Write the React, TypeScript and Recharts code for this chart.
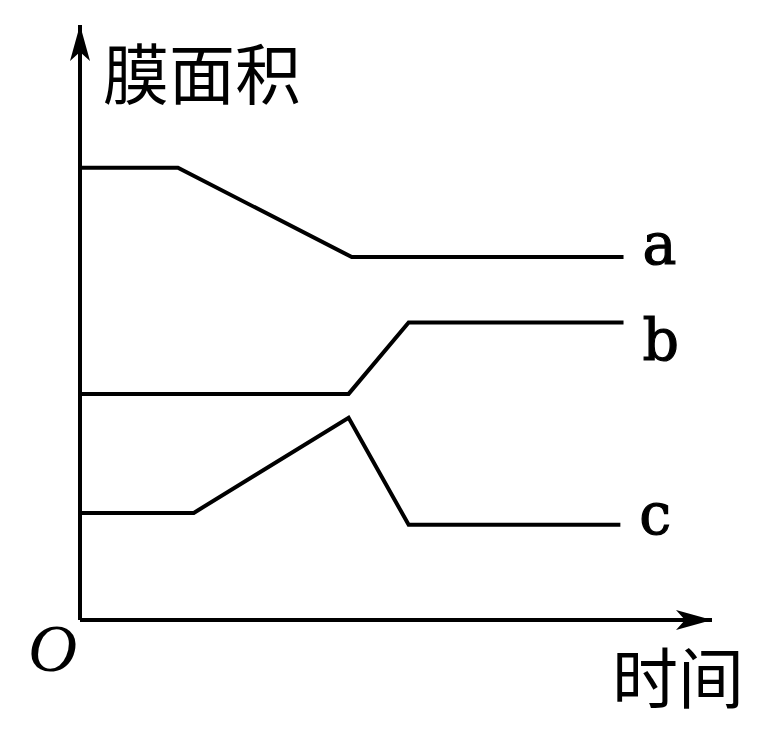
import { LineChart, Line, XAxis, YAxis } from "recharts"

// time axis runs 0..10, membrane area axis runs 0..10 (arbitrary units)
const seriesA = [
  { t: 0, area: 7.6 },
  { t: 1.55, area: 7.6 },
  { t: 4.3, area: 6.1 },
  { t: 8.6, area: 6.1 },
]
const seriesB = [
  { t: 0, area: 3.8 },
  { t: 4.25, area: 3.8 },
  { t: 5.2, area: 5.0 },
  { t: 8.6, area: 5.0 },
]
const seriesC = [
  { t: 0, area: 1.8 },
  { t: 1.8, area: 1.8 },
  { t: 4.25, area: 3.4 },
  { t: 5.2, area: 1.6 },
  { t: 8.55, area: 1.6 },
]
const seriesNames = ["a", "b", "c"]
const yTitle = "膜面积"
const xTitle = "时间"
const originLabel = "O"

// vertical nudge of each end label relative to its line
const labelOffset: Record<string, number> = { a: 7, b: 37, c: 9 }

function endLabel(name: string, count: number) {
  return (props: any) => {
    if (props.index !== count - 1) return null
    return (
      <text
        key={name}
        x={props.x + 19}
        y={props.y + labelOffset[name]}
        fontFamily="DejaVu Serif"
        fontSize={57}
        fill="#000"
        stroke="#000"
        strokeWidth={1.2}
      >
        {name}
      </text>
    )
  }
}

export default function App() {
  const lines = [seriesA, seriesB, seriesC]
  return (
    <div style={{ position: "absolute", left: 0, top: 0, background: "#fff" }}>
      <LineChart width={774} height={734} margin={{ top: 25, right: 62, bottom: 113, left: 79 }}>
        <defs>
          <marker
            id="arrow"
            viewBox="0 0 36 20"
            refX={36}
            refY={10}
            markerWidth={36}
            markerHeight={20}
            markerUnits="userSpaceOnUse"
            orient="auto-start-reverse"
          >
            <path d="M0,0 L36,10 L0,20 L9,10 Z" fill="#000" />
          </marker>
        </defs>
        <XAxis
          type="number"
          dataKey="t"
          domain={[0, 10]}
          height={1}
          tick={false}
          tickLine={false}
          axisLine={{ stroke: "#000", strokeWidth: 4, markerEnd: "url(#arrow)" } as any}
        />
        <YAxis
          type="number"
          dataKey="area"
          domain={[0, 10]}
          width={1}
          tick={false}
          tickLine={false}
          axisLine={{ stroke: "#000", strokeWidth: 4, markerStart: "url(#arrow)" } as any}
        />
        {lines.map((d, i) => (
          <Line
            key={seriesNames[i]}
            data={d}
            dataKey="area"
            type="linear"
            stroke="#000"
            strokeWidth={4}
            dot={false}
            activeDot={false}
            isAnimationActive={false}
            label={endLabel(seriesNames[i], d.length)}
          />
        ))}
        <text x={103} y={70} fontFamily="Noto Sans CJK SC" fontSize={66} dominantBaseline="central" fill="#000">
          {yTitle}
        </text>
        <text x={612} y={674} fontFamily="Noto Sans CJK SC" fontSize={66} dominantBaseline="central" fill="#000">
          {xTitle}
        </text>
        <text x={28} y={671} fontFamily="Liberation Serif" fontStyle="italic" fontSize={68} fill="#000">
          {originLabel}
        </text>
      </LineChart>
    </div>
  )
}
